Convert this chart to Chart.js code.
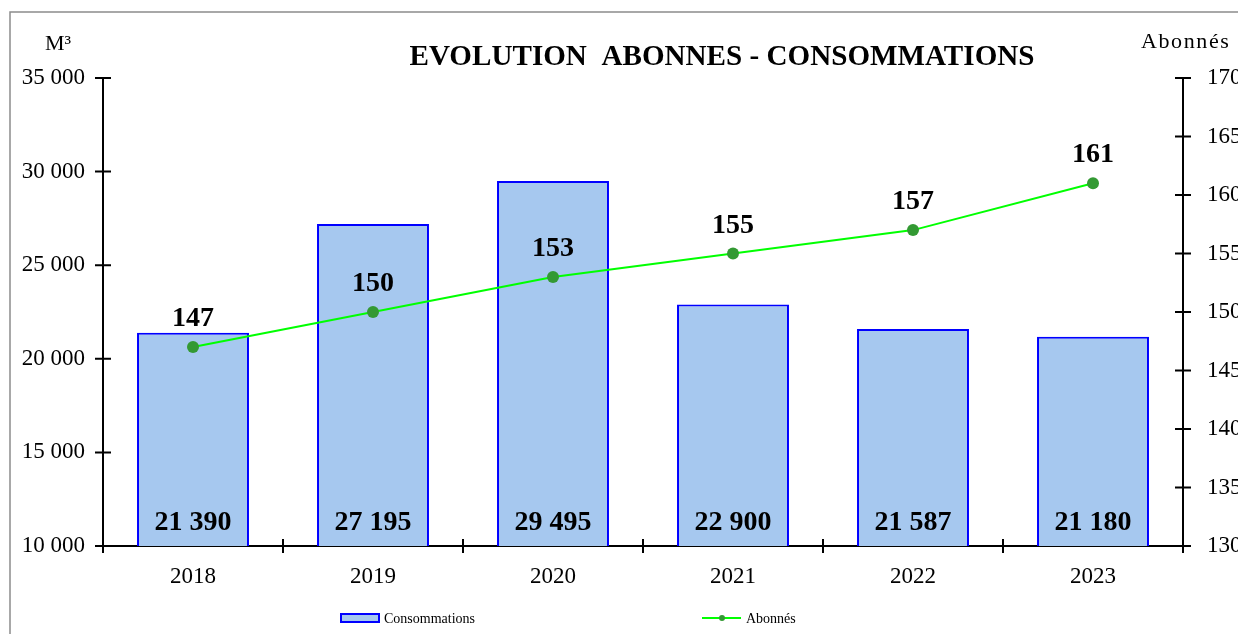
<!DOCTYPE html>
<html>
<head>
<meta charset="utf-8">
<script src="https://cdn.jsdelivr.net/npm/chart.js@4"></script>
<style>
  body { margin: 0; background: #fff; }
  canvas { display: block; }
</style>
</head>
<body>
<canvas id="chart" width="1238" height="634"></canvas>
<script>
const years = ['2018', '2019', '2020', '2021', '2022', '2023'];
const consommations = [21390, 27195, 29495, 22900, 21587, 21180];
const abonnes = [147, 150, 153, 155, 157, 161];
const leftTicks = [10000, 15000, 20000, 25000, 30000, 35000];
const rightTicks = [130, 135, 140, 145, 150, 155, 160, 165, 170];

const serif = '"Liberation Serif", "Times New Roman", serif';

const fmt = v => String(v).replace(/\B(?=(\d{3})+(?!\d))/g, ' ');

// tick marks crossing the axes, titles, value labels and legend
const decor = {
  id: 'decor',
  afterDraw(chart) {
    const ctx = chart.ctx;
    const { left, right, bottom } = chart.chartArea;
    const x = chart.scales.x, y = chart.scales.y, y2 = chart.scales.y2;

    ctx.save();
    // frame
    ctx.strokeStyle = '#8c8c8c';
    ctx.lineWidth = 1.5;
    ctx.strokeRect(10, 12, 1400, 800);

    ctx.strokeStyle = '#000';
    ctx.lineWidth = 2;
    ctx.beginPath();
    y.ticks.forEach(t => {
      const py = y.getPixelForValue(t.value);
      ctx.moveTo(left - 8, py); ctx.lineTo(left + 8, py);
    });
    y2.ticks.forEach(t => {
      const py = y2.getPixelForValue(t.value);
      ctx.moveTo(right - 8, py); ctx.lineTo(right + 8, py);
    });
    const step = x.width / years.length;
    for (let i = 0; i <= years.length; i++) {
      const px = x.left + i * step;
      ctx.moveTo(px, bottom - 7); ctx.lineTo(px, bottom + 7);
    }
    ctx.stroke();

    // title
    ctx.fillStyle = '#000';
    ctx.font = 'bold 29px ' + serif;
    ctx.textAlign = 'center';
    ctx.textBaseline = 'alphabetic';
    const title = 'EVOLUTION  ABONNES - CONSOMMATIONS';
    const tw = ctx.measureText(title).width;
    ctx.save();
    ctx.translate(722, 65);
    ctx.scale(625 / tw, 1);
    ctx.fillText(title, 0, 0);
    ctx.restore();

    // axis units
    ctx.font = '22px ' + serif;
    ctx.textAlign = 'left';
    ctx.fillText('M³', 45, 50);
    ctx.letterSpacing = '1.6px';
    ctx.fillText('Abonnés', 1141, 48);
    ctx.letterSpacing = '0px';

    // value labels
    ctx.font = 'bold 28px ' + serif;
    ctx.textAlign = 'center';
    chart.getDatasetMeta(0).data.forEach((bar, i) => {
      ctx.fillText(fmt(consommations[i]), bar.x, bottom - 16);
    });
    chart.getDatasetMeta(1).data.forEach((pt, i) => {
      ctx.fillText(String(abonnes[i]), pt.x, pt.y - 21);
    });

    // legend
    const ly = 618;
    ctx.fillStyle = '#a6c8ef';
    ctx.strokeStyle = '#0000ff';
    ctx.lineWidth = 2;
    ctx.fillRect(341, ly - 4, 38, 8);
    ctx.strokeRect(341, ly - 4, 38, 8);
    ctx.strokeStyle = '#00ff00';
    ctx.beginPath();
    ctx.moveTo(702, ly); ctx.lineTo(741, ly);
    ctx.stroke();
    ctx.fillStyle = '#339933';
    ctx.beginPath();
    ctx.arc(722, ly, 3, 0, Math.PI * 2);
    ctx.fill();
    ctx.fillStyle = '#000';
    ctx.font = '14px ' + serif;
    ctx.textAlign = 'left';
    ctx.textBaseline = 'middle';
    ctx.fillText('Consommations', 384, ly + 1);
    ctx.fillText('Abonnés', 746, ly + 1);
    ctx.restore();
  }
};

new Chart(document.getElementById('chart'), {
  data: {
    labels: years,
    datasets: [
      {
        type: 'bar',
        label: 'Consommations',
        data: consommations,
        yAxisID: 'y',
        backgroundColor: '#a6c8ef',
        borderColor: '#0000ff',
        borderWidth: 2,
        borderSkipped: false,
        categoryPercentage: 1,
        barPercentage: 0.622,
        order: 2
      },
      {
        type: 'line',
        label: 'Abonnés',
        data: abonnes,
        yAxisID: 'y2',
        borderColor: '#00ff00',
        borderWidth: 2,
        pointRadius: 6,
        pointBackgroundColor: '#339933',
        pointBorderWidth: 0,
        tension: 0,
        order: 1
      }
    ]
  },
  options: {
    responsive: false,
    animation: false,
    layout: { padding: { top: 78, left: 0, right: 0, bottom: 0 } },
    plugins: {
      legend: { display: false },
      tooltip: { enabled: false }
    },
    scales: {
      x: {
        offset: true,
        grid: { display: false },
        border: { display: true, color: '#000', width: 2 },
        ticks: { color: '#000', font: { family: serif, size: 23 }, padding: 9 },
        afterFit: s => { s.height = 88; }
      },
      y: {
        position: 'left',
        min: 10000,
        max: 35000,
        afterBuildTicks: s => { s.ticks = leftTicks.map(v => ({ value: v })); },
        grid: { display: false },
        border: { display: true, color: '#000', width: 2 },
        ticks: { color: '#000', font: { family: serif, size: 23 }, padding: 10, callback: v => fmt(v) },
        afterFit: s => { s.width = 103; }
      },
      y2: {
        position: 'right',
        min: 130,
        max: 170,
        afterBuildTicks: s => { s.ticks = rightTicks.map(v => ({ value: v })); },
        grid: { display: false },
        border: { display: true, color: '#000', width: 2 },
        ticks: { color: '#000', font: { family: serif, size: 23 }, padding: 16 },
        afterFit: s => { s.width = 55; }
      }
    }
  },
  plugins: [decor]
});
</script>
</body>
</html>
